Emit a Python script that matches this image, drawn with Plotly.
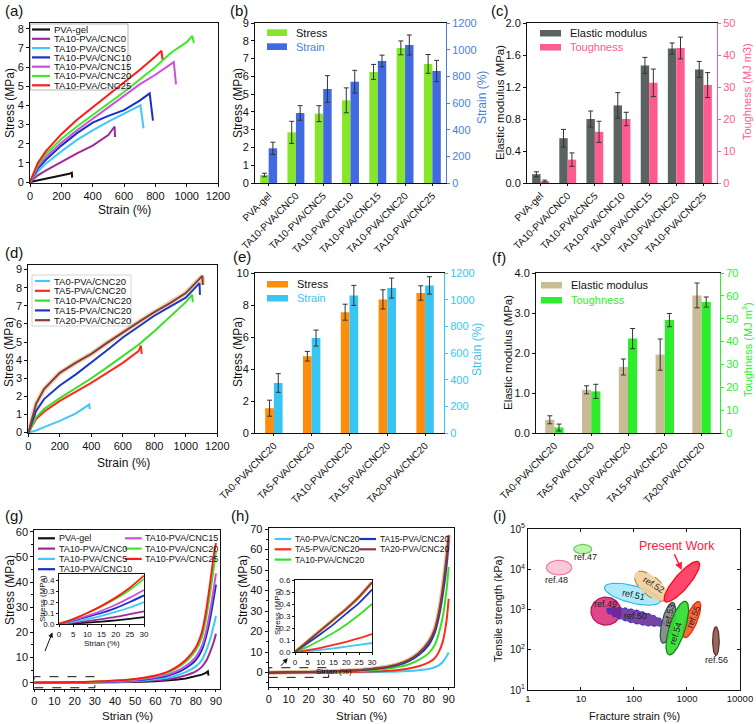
import math
import numpy as np
import plotly.graph_objects as go

# ------------------------------------------------------------------ DATA
# (a) stress-strain, TA10-PVA/CNCx series
a_names = ["PVA-gel", "TA10-PVA/CNC0", "TA10-PVA/CNC5", "TA10-PVA/CNC10",
           "TA10-PVA/CNC15", "TA10-PVA/CNC20", "TA10-PVA/CNC25"]
a_pva_x = [0, 50, 100, 150, 200, 250, 267, 269]
a_pva_y = [0, 0.08, 0.16, 0.25, 0.33, 0.43, 0.49, 0.23]
a_cnc0_x = [0, 50, 100, 200, 300, 400, 500, 540, 543]
a_cnc0_y = [0, 0.35, 0.6, 1.05, 1.5, 1.9, 2.45, 2.9, 2.35]
a_cnc5_x = [0, 50, 100, 200, 300, 400, 500, 600, 705, 725]
a_cnc5_y = [0, 0.55, 0.95, 1.6, 2.2, 2.7, 3.15, 3.55, 4.0, 2.8]
a_cnc10_x = [0, 50, 100, 200, 300, 400, 500, 600, 700, 764, 785]
a_cnc10_y = [0, 0.7, 1.15, 1.9, 2.55, 3.1, 3.45, 3.75, 4.25, 4.63, 3.2]
a_cnc15_x = [0, 50, 100, 200, 300, 400, 500, 600, 700, 800, 918, 932]
a_cnc15_y = [0, 0.8, 1.3, 2.05, 2.7, 3.3, 3.9, 4.5, 5.1, 5.6, 6.26, 5.1]
a_cnc20_x = [0, 50, 100, 200, 300, 400, 500, 600, 700, 800, 900, 1000, 1036, 1046]
a_cnc20_y = [0, 0.9, 1.45, 2.25, 2.9, 3.5, 4.1, 4.7, 5.35, 6.0, 6.75, 7.3, 7.62, 7.25]
a_cnc25_x = [0, 50, 100, 200, 300, 400, 500, 600, 700, 800, 839, 846]
a_cnc25_y = [0, 1.0, 1.6, 2.5, 3.25, 3.9, 4.5, 5.2, 5.85, 6.55, 6.85, 6.4]

# (b) stress / strain bars
bc_cats = ["PVA-gel", "TA10-PVA/CNC0", "TA10-PVA/CNC5", "TA10-PVA/CNC10",
           "TA10-PVA/CNC15", "TA10-PVA/CNC20", "TA10-PVA/CNC25"]
b_stress = [0.45, 2.85, 3.9, 4.65, 6.25, 7.6, 6.7]
b_stress_err = [0.1, 0.62, 0.45, 0.7, 0.42, 0.39, 0.53]
b_strain = [260, 525, 705, 760, 915, 1035, 840]
b_strain_err = [46, 55, 100, 85, 44, 75, 80]

# (c) modulus / toughness bars
c_modulus = [0.11, 0.56, 0.80, 0.97, 1.47, 1.68, 1.42]
c_modulus_err = [0.03, 0.11, 0.1, 0.16, 0.1, 0.07, 0.1]
c_tough = [0.6, 7.3, 16.0, 20.0, 31.3, 42.2, 30.6]
c_tough_err = [0.3, 2.1, 3.3, 2.1, 4.3, 3.4, 3.9]

# (d) stress-strain, TAx-PVA/CNC20 series
d_names = ["TA0-PVA/CNC20", "TA5-PVA/CNC20", "TA10-PVA/CNC20",
           "TA15-PVA/CNC20", "TA20-PVA/CNC20"]
d_ta0_x = [0, 50, 100, 200, 300, 387, 390]
d_ta0_y = [0, 0.12, 0.3, 0.65, 1.05, 1.55, 1.3]
d_ta5_x = [0, 50, 100, 200, 300, 400, 500, 600, 700, 715, 720]
d_ta5_y = [0, 0.75, 1.15, 1.75, 2.25, 2.75, 3.3, 3.85, 4.5, 4.8, 4.35]
d_ta10_x = [0, 50, 100, 200, 300, 400, 500, 600, 700, 800, 900, 1000, 1040, 1044]
d_ta10_y = [0, 0.85, 1.3, 1.9, 2.45, 3.0, 3.6, 4.2, 4.85, 5.6, 6.4, 7.2, 7.6, 7.2]
d_ta15_x = [0, 50, 100, 200, 300, 400, 500, 600, 700, 800, 900, 1000, 1087, 1090]
d_ta15_y = [0, 1.2, 1.85, 2.6, 3.2, 3.85, 4.55, 5.25, 5.85, 6.45, 6.95, 7.45, 8.25, 7.6]
d_ta20_x = [0, 50, 100, 200, 300, 400, 500, 600, 700, 800, 900, 1000, 1105, 1108]
d_ta20_y = [0, 1.6, 2.4, 3.3, 3.85, 4.35, 4.95, 5.55, 6.1, 6.65, 7.15, 7.7, 8.65, 8.15]

# (e) stress / strain bars
ef_cats = ["TA0-PVA/CNC20", "TA5-PVA/CNC20", "TA10-PVA/CNC20",
           "TA15-PVA/CNC20", "TA20-PVA/CNC20"]
e_stress = [1.55, 4.8, 7.55, 8.35, 8.75]
e_stress_err = [0.5, 0.3, 0.5, 0.6, 0.45]
e_strain = [375, 712, 1032, 1087, 1107]
e_strain_err = [70, 60, 75, 75, 65]

# (f) modulus / toughness bars
f_modulus = [0.33, 1.08, 1.65, 1.96, 3.44]
f_modulus_err = [0.1, 0.1, 0.2, 0.39, 0.31]
f_tough = [2.4, 18.2, 41.3, 49.4, 57.3]
f_tough_err = [1.5, 3.1, 4.4, 2.9, 2.2]

# (g) compression, TA10-PVA/CNCx
g_strain = [0, 10, 20, 30, 40, 50, 60, 65, 70, 75, 80, 83, 85, 87, 89, 90]
g_cnc0 = [0, 0.027, 0.065, 0.115, 0.23, 0.45, 0.95, 1.3, 1.9, 2.9, 4.5, 6.3, 8.5, 12, 16.5, 19.5]
g_cnc5 = [0, 0.045, 0.11, 0.2, 0.38, 0.7, 1.4, 1.9, 2.8, 4.2, 6.5, 9, 12.5, 17, 23, 26.5]
g_cnc10 = [0, 0.065, 0.145, 0.26, 0.5, 0.95, 1.9, 2.6, 3.8, 5.8, 9.0, 13, 18, 25, 34, 39]
g_cnc15 = [0, 0.075, 0.175, 0.31, 0.6, 1.1, 2.2, 3.0, 4.4, 6.6, 10.2, 14.5, 20, 28, 38, 43.5]
g_cnc20 = [0, 0.1, 0.23, 0.41, 0.8, 1.4, 2.7, 3.7, 5.5, 8.3, 12.8, 18, 25, 35, 46, 52]
g_cnc25 = [0, 0.1, 0.24, 0.44, 0.85, 1.5, 2.9, 4.0, 6.0, 9, 14, 20, 28, 39, 51, 55.5]
g_pva_strain = [0, 10, 20, 30, 40, 50, 60, 65, 70, 75, 80, 83, 85, 86, 86.3]
g_pva = [0, 0.012, 0.033, 0.062, 0.14, 0.3, 0.6, 0.85, 1.2, 1.7, 2.5, 3.2, 3.9, 4.5, 2.8]
g_in_strain = [0, 5, 10, 15, 20, 25, 30]
g_in_pva = [0, 0.005, 0.012, 0.022, 0.033, 0.047, 0.062]
g_in_cnc0 = [0, 0.012, 0.027, 0.045, 0.065, 0.09, 0.115]
g_in_cnc5 = [0, 0.02, 0.045, 0.075, 0.11, 0.15, 0.2]
g_in_cnc10 = [0, 0.03, 0.065, 0.1, 0.145, 0.2, 0.26]
g_in_cnc15 = [0, 0.035, 0.075, 0.12, 0.175, 0.24, 0.31]
g_in_cnc20 = [0, 0.045, 0.1, 0.16, 0.23, 0.31, 0.41]
g_in_cnc25 = [0, 0.045, 0.1, 0.165, 0.24, 0.33, 0.44]

# (h) compression, TAx-PVA/CNC20
h_strain = [0, 10, 20, 30, 40, 50, 60, 65, 70, 75, 80, 83, 85, 87, 89, 90]
h_ta0 = [0, 0.02, 0.045, 0.075, 0.13, 0.23, 0.4, 0.55, 0.8, 1.2, 1.8, 2.6, 3.5, 5.2, 8, 9.8]
h_ta5 = [0, 0.035, 0.085, 0.15, 0.28, 0.5, 0.9, 1.3, 2.0, 3.1, 5.0, 7.0, 10, 15, 26, 36]
h_ta10 = [0, 0.09, 0.22, 0.4, 0.7, 1.1, 2.0, 2.8, 4.0, 6.2, 9.5, 13.5, 19, 27, 41, 51.5]
h_ta15 = [0, 0.14, 0.32, 0.52, 0.9, 1.5, 2.7, 3.8, 5.6, 8.6, 13.5, 19.5, 27, 38, 53, 64.5]
h_ta20 = [0, 0.16, 0.36, 0.58, 1.0, 1.7, 3.0, 4.2, 6.2, 9.5, 15, 21, 29, 41, 57, 67]
h_in_strain = [0, 5, 10, 15, 20, 25, 30]
h_in_ta0 = [0, 0.007, 0.017, 0.03, 0.045, 0.06, 0.075]
h_in_ta5 = [0, 0.015, 0.035, 0.06, 0.085, 0.115, 0.15]
h_in_ta10 = [0, 0.045, 0.1, 0.16, 0.23, 0.31, 0.4]
h_in_ta15 = [0, 0.075, 0.15, 0.23, 0.32, 0.41, 0.52]
h_in_ta20 = [0, 0.09, 0.18, 0.27, 0.36, 0.46, 0.58]

# (i) Ashby-type comparison (ellipse centres)
i_refs = ["ref.47", "ref.48", "ref.51", "ref.52", "Present Work", "ref.49",
          "ref.50", "ref.55", "ref.53", "ref.54", "ref.56"]
i_strain = [10.8, 3.85, 93, 210, 800, 29.5, 107, 1230, 437, 656, 3516]
i_strength = [3.16e4, 1.1e4, 2.4e3, 3.8e3, 4.9e3, 912, 660, 562, 468, 347, 164]
i_label_strain = [12, 3.5, 100, 237, None, 29.6, 108, 1320, 471, 600, 3600]
i_label_strength = [2.0e4, 5.4e3, 2.3e3, 4.1e3, None, 1.36e3, 680, 653, 720, 251, 56]

# ------------------------------------------------------------------ STYLE
W, H = 756, 724
FONT = "Liberation Sans, Arial, Helvetica, sans-serif"
BLACK = "#111111"


def fx(p):
    return p / W


def fy(p):
    return 1 - p / H


def axis(dom_px, rng=None, anchor=None, vertical=False, fsize=11, **kw):
    if vertical:
        dom = [fy(dom_px[1]), fy(dom_px[0])]
    else:
        dom = [fx(dom_px[0]), fx(dom_px[1])]
    d = dict(domain=dom, anchor=anchor, showline=True, linecolor=BLACK, linewidth=1,
             ticks="outside", ticklen=3, tickwidth=1, tickcolor=BLACK,
             showgrid=False, zeroline=False, automargin=False, fixedrange=True,
             tickfont=dict(family=FONT, size=fsize, color=BLACK))
    if rng is not None:
        d["range"] = rng
    d.update(kw)
    return d


fig = go.Figure()
L = {}
shapes = []
annos = []


def line(x, y, color, xa, ya, width=1.8, shape="linear"):
    ln = dict(color=color, width=width, shape=shape)
    if shape == "spline":
        ln["smoothing"] = 0.6
    fig.add_trace(go.Scatter(x=x, y=y, mode="lines", line=ln, xaxis=xa, yaxis=ya,
                             showlegend=False, hoverinfo="skip"))


def bar(cats, vals, errs, color, xa, ya, offset, width):
    fig.add_trace(go.Bar(x=cats, y=vals, marker=dict(color=color, line=dict(width=0)),
                         offset=offset, width=width, xaxis=xa, yaxis=ya, showlegend=False,
                         error_y=dict(type="data", array=errs, color="#333333",
                                      thickness=1, width=2.5),
                         hoverinfo="skip"))


def text(xp, yp, t, size=10, color=BLACK, xanchor="left", angle=0):
    annos.append(dict(xref="paper", yref="paper", x=fx(xp), y=fy(yp), text=t, showarrow=False,
                      xanchor=xanchor, yanchor="middle", textangle=angle,
                      font=dict(family=FONT, size=size, color=color)))


def title(xp, yp, t, color=BLACK, size=12, vertical=False):
    text(xp, yp, t, size=size, color=color, xanchor="center", angle=-90 if vertical else 0)


def leg_line(x0, x1, y, color, label, size=10):
    shapes.append(dict(type="line", xref="paper", yref="paper", x0=fx(x0), x1=fx(x1),
                       y0=fy(y), y1=fy(y), line=dict(color=color, width=2.2)))
    text(x1 + 1.5, y, label, size=size)


def leg_box(x0, x1, y0, y1, color, label, tcolor, size=11):
    shapes.append(dict(type="rect", xref="paper", yref="paper", x0=fx(x0), x1=fx(x1),
                       y0=fy(y1), y1=fy(y0), fillcolor=color, line=dict(width=0)))
    text(x1 + 7, (y0 + y1) / 2, label, size=size, color=tcolor)


# colours
C_PVA, C_CNC0, C_CNC5, C_CNC10 = "#111111", "#a02898", "#3fc8f8", "#1a2ec8"
C_CNC15, C_CNC20, C_CNC25 = "#cc50dc", "#3cea26", "#ff1a1a"
C_TA0, C_TA5, C_TA10, C_TA15, C_TA20 = "#3fc8f8", "#ff2a1a", "#36e024", "#1a38c8", "#8b3a3a"
a_colors = [C_PVA, C_CNC0, C_CNC5, C_CNC10, C_CNC15, C_CNC20, C_CNC25]
d_colors = [C_TA0, C_TA5, C_TA10, C_TA15, C_TA20]

# ------------------------------------------------------------------ (a)
L["xaxis"] = axis([30, 218], [0, 1200], "y", dtick=200, mirror=True)
L["yaxis"] = axis([23, 183], [-0.05, 8.3], "x", vertical=True, dtick=1, mirror=True)
title(124, 210, "Strain (%)")
title(10, 103, "Stress (MPa)", vertical=True)
a_xs = [a_pva_x, a_cnc0_x, a_cnc5_x, a_cnc10_x, a_cnc15_x, a_cnc20_x, a_cnc25_x]
a_ys = [a_pva_y, a_cnc0_y, a_cnc5_y, a_cnc10_y, a_cnc15_y, a_cnc20_y, a_cnc25_y]
for xs, ys, c in zip(a_xs, a_ys, a_colors):
    line(xs, ys, c, "x", "y", width=2)
shapes.append(dict(type="rect", xref="paper", yref="paper", x0=fx(30.5), x1=fx(128), y0=fy(90),
                   y1=fy(24), line=dict(color="#888888", width=0.6)))
for i, (n, c) in enumerate(zip(a_names, a_colors)):
    leg_line(32, 50, 29.5 + i * 9.3, c, n, size=9.5)

# ------------------------------------------------------------------ (b)
B_GREEN, B_BLUE, B_AX = "#86e62a", "#4169e1", "#4a7fd8"
L["xaxis2"] = axis([255, 446], None, "y2", type="category", mirror=True, tickangle=-45, fsize=10,
                   ticklen=2)
L["yaxis2"] = axis([23, 183], [0, 9], "x2", vertical=True, dtick=1)
L["yaxis3"] = axis([23, 183], [0, 1200], "x2", vertical=True, overlaying="y2", side="right",
                   dtick=200, linecolor=B_AX, tickcolor=B_AX,
                   tickfont=dict(family=FONT, size=11, color=B_AX))
title(238, 103, "Stress (MPa)", vertical=True)
title(482, 98, "Strain (%)", color=B_AX, vertical=True)
bar(bc_cats, b_stress, b_stress_err, B_GREEN, "x2", "y2", -0.31, 0.31)
bar(bc_cats, b_strain, b_strain_err, B_BLUE, "x2", "y3", 0.0, 0.31)
leg_box(267, 287, 29.3, 36, B_GREEN, "Stress", BLACK)
leg_box(267, 287, 43.3, 50, B_BLUE, "Strain", B_AX)

# ------------------------------------------------------------------ (c)
C_GRAY, C_PINK = "#5b6262", "#ff5b8f"
L["xaxis3"] = axis([527, 717], None, "y4", type="category", mirror=True, tickangle=-45, fsize=10,
                   ticklen=2)
L["yaxis4"] = axis([23, 183], [0, 2], "x3", vertical=True, dtick=0.4, tickformat=".1f")
L["yaxis5"] = axis([23, 183], [0, 50], "x3", vertical=True, overlaying="y4", side="right",
                   dtick=10, linecolor=C_PINK, tickcolor=C_PINK,
                   tickfont=dict(family=FONT, size=11, color=C_PINK))
title(500, 103, "Elastic modulus (MPa)", size=11.5, vertical=True)
title(747, 92, "Toughness (MJ m3)", color=C_PINK, size=11, vertical=True)
bar(bc_cats, c_modulus, c_modulus_err, C_GRAY, "x3", "y4", -0.31, 0.31)
bar(bc_cats, c_tough, c_tough_err, C_PINK, "x3", "y5", 0.0, 0.31)
leg_box(540, 561, 30, 36.5, C_GRAY, "Elastic modulus", BLACK)
leg_box(540, 561, 44, 50.5, C_PINK, "Toughness", C_PINK)

# ------------------------------------------------------------------ (d)
L["xaxis4"] = axis([28.3, 217.3], [0, 1200], "y6", dtick=200, mirror=True)
L["yaxis6"] = axis([265, 433], [-0.02, 9.25], "x4", vertical=True, dtick=1, mirror=True)
title(123, 463, "Strain (%)")
title(9, 352, "Stress (MPa)", vertical=True)
d_xs = [d_ta0_x, d_ta5_x, d_ta10_x, d_ta15_x, d_ta20_x]
d_ys = [d_ta0_y, d_ta5_y, d_ta10_y, d_ta15_y, d_ta20_y]
line(d_ta20_x, d_ta20_y, "rgba(215,185,120,0.55)", "x4", "y6", width=5)
for xs, ys, c in zip(d_xs, d_ys, d_colors):
    line(xs, ys, c, "x4", "y6", width=2)
shapes.append(dict(type="rect", xref="paper", yref="paper", x0=fx(32), x1=fx(131), y0=fy(326),
                   y1=fy(275), line=dict(color="#bbbbbb", width=0.6)))
for i, (n, c) in enumerate(zip(d_names, d_colors)):
    leg_line(35, 50, 281 + i * 9.8, c, n, size=9.5)

# ------------------------------------------------------------------ (e)
E_OR, E_BL = "#ff8c0a", "#38c5f2"
L["xaxis5"] = axis([255, 444], None, "y7", type="category", mirror=True, tickangle=-45, fsize=10,
                   ticklen=2)
L["yaxis7"] = axis([273, 433], [0, 10], "x5", vertical=True, dtick=2)
L["yaxis8"] = axis([273, 433], [0, 1200], "x5", vertical=True, overlaying="y7", side="right",
                   dtick=200, linecolor=E_BL, tickcolor=E_BL,
                   tickfont=dict(family=FONT, size=11, color=E_BL))
title(238, 352, "Stress (MPa)", vertical=True)
title(477, 350, "Strain (%)", color=E_BL, vertical=True)
bar(ef_cats, e_stress, e_stress_err, E_OR, "x5", "y7", -0.23, 0.23)
bar(ef_cats, e_strain, e_strain_err, E_BL, "x5", "y8", 0.0, 0.23)
leg_box(267, 288, 281, 287.5, E_OR, "Stress", BLACK)
leg_box(267, 288, 295, 301.5, E_BL, "Strain", E_BL)

# ------------------------------------------------------------------ (f)
F_TAN, F_GR = "#c9bc95", "#2ded2d"
L["xaxis6"] = axis([536, 720], None, "y9", type="category", mirror=True, tickangle=-45, fsize=10,
                   ticklen=2)
L["yaxis9"] = axis([273, 433], [0, 4], "x6", vertical=True, dtick=1, tickformat=".1f")
L["yaxis10"] = axis([273, 433], [0, 70], "x6", vertical=True, overlaying="y9", side="right",
                    dtick=10, linecolor=F_GR, tickcolor=F_GR,
                    tickfont=dict(family=FONT, size=11, color=F_GR))
title(508, 353, "Elastic modulus (MPa)", size=11.5, vertical=True)
title(747, 350, "Toughness (MJ m<sup>3</sup>)", color=F_GR, size=11, vertical=True)
bar(ef_cats, f_modulus, f_modulus_err, F_TAN, "x6", "y9", -0.25, 0.25)
bar(ef_cats, f_tough, f_tough_err, F_GR, "x6", "y10", 0.0, 0.25)
leg_box(541, 562, 282, 288.5, F_TAN, "Elastic modulus", BLACK)
leg_box(541, 562, 297, 303.5, F_GR, "Toughness", F_GR)

# ------------------------------------------------------------------ (g)
minor5 = dict(dtick=5, ticks="outside", ticklen=2, tickcolor=BLACK)
L["xaxis7"] = axis([34.3, 220], [0, 92], "y11", dtick=10, mirror=True, minor=minor5, ticklen=2)
L["yaxis11"] = axis([530, 689], [-2.5, 60.7], "x7", vertical=True, dtick=10, mirror=True,
                    minor=minor5)
title(127, 716, "Strian (%)", size=11.5)
title(10, 590, "Stress (MPa)", vertical=True)
g_series = [g_cnc0, g_cnc5, g_cnc10, g_cnc15, g_cnc20, g_cnc25]
line(g_pva_strain, g_pva, C_PVA, "x7", "y11", width=2)
for ys, c in zip(g_series, a_colors[1:]):
    line(g_strain, ys, c, "x7", "y11", width=2, shape="spline")
# inset
L["xaxis8"] = axis([59, 144], [0, 30], "y12", dtick=5, mirror=True, fsize=8, ticklen=2)
L["yaxis12"] = axis([574, 624], [0, 0.455], "x8", vertical=True, dtick=0.1, tickformat=".1f",
                    mirror=True, fsize=8, ticklen=2)
title(101.5, 643, "Strian (%)", size=8)
title(42, 599, "Stress (MPa)", size=8, vertical=True)
g_in = [g_in_pva, g_in_cnc0, g_in_cnc5, g_in_cnc10, g_in_cnc15, g_in_cnc20, g_in_cnc25]
for ys, c in zip(g_in, a_colors):
    line(g_in_strain, ys, c, "x8", "y12", width=1.8, shape="spline")
shapes.append(dict(type="rect", xref="x7", yref="y11", x0=0, x1=g_in_strain[-1], y0=-2.0, y1=2.4,
                   line=dict(color=BLACK, width=1, dash="dash")))
annos.append(dict(xref="x7", yref="y11", axref="x7", ayref="y11", x=9, y=20, ax=5, ay=12,
                  showarrow=True, arrowhead=2, arrowsize=1, arrowwidth=1, arrowcolor=BLACK, text=""))
for i in range(4):
    leg_line(38, 55, 538.3 + i * 10.3, a_colors[i], a_names[i], size=9)
for i in range(3):
    leg_line(125, 141.7, 538.3 + i * 10.3, a_colors[4 + i], a_names[4 + i], size=9)

# ------------------------------------------------------------------ (h)
L["xaxis9"] = axis([268.7, 453.7], [0, 92.5], "y13", dtick=10, mirror=True, minor=minor5,
                   ticklen=2)
L["yaxis13"] = axis([528, 687], [-7.0, 70.5], "x9", vertical=True, dtick=10, mirror=True,
                    minor=minor5)
title(361, 716, "Strian (%)", size=11.5)
title(243, 590, "Stress (MPa)", vertical=True)
h_series = [h_ta0, h_ta5, h_ta10, h_ta15, h_ta20]
line(h_strain, h_ta20, "rgba(215,160,90,0.6)", "x9", "y13", width=4.5, shape="spline")
for ys, c in zip(h_series, d_colors):
    line(h_strain, ys, c, "x9", "y13", width=2, shape="spline")
L["xaxis10"] = axis([295, 372], [0, 30], "y14", dtick=5, mirror=True, fsize=8, ticklen=2)
L["yaxis14"] = axis([580, 652], [0, 0.6], "x10", vertical=True, dtick=0.1, tickformat=".1f",
                    mirror=True, fsize=8, ticklen=2)
title(333.5, 671, "Strian (%)", size=8)
title(277, 612, "Stress (MPa)", size=8, vertical=True)
h_in = [h_in_ta0, h_in_ta5, h_in_ta10, h_in_ta15, h_in_ta20]
line(h_in_strain, h_in_ta20, "rgba(230,160,60,0.8)", "x10", "y14", width=3.5, shape="spline")
for ys, c in zip(h_in, d_colors):
    line(h_in_strain, ys, c, "x10", "y14", width=1.8, shape="spline")
shapes.append(dict(type="rect", xref="x9", yref="y13", x0=0, x1=h_in_strain[-1], y0=-2.3, y1=2.4,
                   line=dict(color=BLACK, width=1, dash="dash")))
annos.append(dict(xref="x9", yref="y13", axref="x9", ayref="y13", x=9.5, y=7, ax=5.5, ay=2.6,
                  showarrow=True, arrowhead=2, arrowsize=1, arrowwidth=1, arrowcolor=BLACK, text=""))
for i, k in enumerate([0, 1, 2]):
    leg_line(274.7, 291.3, 539 + i * 10.3, d_colors[k], d_names[k], size=8.5)
for i, k in enumerate([3, 4]):
    leg_line(359.3, 376, 539 + i * 10.3, d_colors[k], d_names[k], size=8.5)

# ------------------------------------------------------------------ (i)
I_X0, I_X1, I_Y0, I_Y1 = 528, 740, 529, 690
L["xaxis11"] = axis([I_X0, I_X1], [0, 4.0005], "y15", type="log", ticks="inside", mirror="ticks",
                    tickvals=[1, 10, 100, 1000, 10000], ticktext=["1", "10", "100", "1000", "10000"],
                    fsize=9.5)
L["yaxis15"] = axis([I_Y0, I_Y1], [1, 5.0005], "x11", vertical=True, type="log", ticks="inside",
                    mirror="ticks", tickvals=[10, 100, 1e3, 1e4, 1e5],
                    ticktext=["10<sup>1</sup>", "10<sup>2</sup>", "10<sup>3</sup>", "10<sup>4</sup>",
                              "10<sup>5</sup>"], fsize=10)
title(634, 716, "Fracture strain (%)", size=11)
title(498, 609, "Tensile strength (kPa)", size=11, vertical=True)
XPD = (I_X1 - I_X0) / 4.0
YPD = (I_Y1 - I_Y0) / 4.0
# ellipse geometry in pixels: semi-major, semi-minor, angle (deg, ccw)
i_geom = [(9, 4.7, 0), (12.7, 7.3, 0), (28.7, 8.7, -14.4), (20.5, 9.5, -40), (26, 7.5, 49.5),
          (15, 14, 0), (30, 6.7, -13.4), (19.4, 5.7, 68), (21, 6, 76), (28, 8, 72.6),
          (14.3, 3.3, 90)]
i_fill = ["rgba(180,240,160,0.85)", "rgba(249,190,208,0.85)", "rgba(160,230,248,0.85)",
          "rgba(240,205,150,0.85)", "rgba(255,45,90,0.88)", "rgba(222,50,125,0.9)",
          "rgba(95,35,150,0.85)", "rgba(255,85,35,0.9)", "rgba(130,130,130,0.9)",
          "rgba(45,220,45,0.9)", "rgba(140,90,80,0.9)"]
i_line = ["#66cc55", "#f07ca0", "#30b8e8", "#c08840", "#ff0000", "#b8105a", "#2233dd",
          "#ee2200", "#205858", "#108010", "#5a2a20"]
i_dash = ["solid", "solid", "solid", "dash", "solid", "solid", "dot", "solid", "solid", "solid",
          "solid"]
t = np.linspace(0, 2 * np.pi, 91)
for k in range(len(i_refs)):
    a, b, ang = i_geom[k]
    th = math.radians(ang)
    ex = a * np.cos(t) * math.cos(th) - b * np.sin(t) * math.sin(th)
    ey = a * np.cos(t) * math.sin(th) + b * np.sin(t) * math.cos(th)
    xs = 10 ** (math.log10(i_strain[k]) + ex / XPD)
    ys = 10 ** (math.log10(i_strength[k]) + ey / YPD)
    fig.add_trace(go.Scatter(x=xs, y=ys, mode="lines", fill="toself", fillcolor=i_fill[k],
                             line=dict(color=i_line[k], width=1.2, dash=i_dash[k]),
                             xaxis="x11", yaxis="y15", showlegend=False, hoverinfo="skip"))
i_angle = [0, 0, 12, 32, 0, 0, 0, -68, -78, -72, 0]
for k in range(len(i_refs)):
    if i_label_strain[k] is None:
        continue
    annos.append(dict(xref="x11", yref="y15", x=math.log10(i_label_strain[k]),
                      y=math.log10(i_label_strength[k]), text=i_refs[k], showarrow=False,
                      textangle=i_angle[k], font=dict(family=FONT, size=9, color="#222222")))
annos.append(dict(xref="x11", yref="y15", x=math.log10(645), y=math.log10(3.8e4),
                  text="Present Work", showarrow=False,
                  font=dict(family=FONT, size=12.5, color="#ff1a3c")))
annos.append(dict(xref="x11", yref="y15", axref="x11", ayref="y15", x=2.90, y=3.98, ax=2.75,
                  ay=4.41, showarrow=True, arrowhead=2, arrowsize=1, arrowwidth=1.5,
                  arrowcolor="#ff1a3c", text=""))

# ------------------------------------------------------------------ panel letters
for lab, xp, yp in [("(a)", 3, 10), ("(b)", 228, 10), ("(c)", 489, 10), ("(d)", 3, 253),
                    ("(e)", 231, 256), ("(f)", 490, 258), ("(g)", 3, 515), ("(h)", 229, 515),
                    ("(i)", 491, 515)]:
    text(xp, yp, lab, size=15)

L.update(dict(width=W, height=H, margin=dict(l=0, r=0, t=0, b=0), paper_bgcolor="white",
              plot_bgcolor="white", showlegend=False, barmode="group", hovermode=False,
              font=dict(family=FONT, size=11, color=BLACK), shapes=shapes, annotations=annos))
fig.update_layout(**L)
# the page's default 8px body margin would push the 756x724 figure off the window
fig.write_html("out.html", config={"displayModeBar": False, "staticPlot": True},
               post_script="document.body.style.margin='0';document.body.style.overflow='hidden';")
